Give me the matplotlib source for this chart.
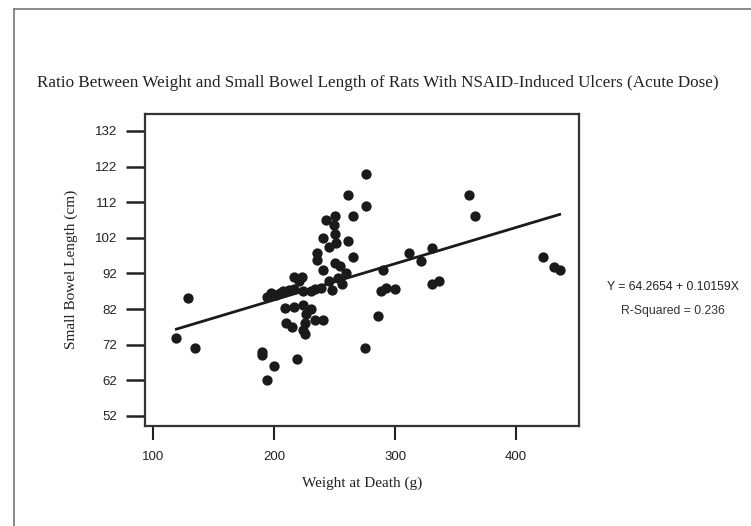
import matplotlib.pyplot as plt
from matplotlib.lines import Line2D

# weight at death (g) and small bowel length (cm)
weight = [119, 129, 134, 190, 190, 194, 200, 219, 225,
          194, 197, 201, 205, 207, 212, 216, 220, 223, 216, 224, 230, 234, 239,
          209, 216, 224, 230, 210, 215, 225, 234, 240, 226, 224,
          240, 235, 235, 240, 245, 251, 243, 250, 249, 250,
          261, 265, 261, 265, 276, 276, 250, 254, 259, 245, 253, 256, 248,
          275, 286, 288, 292, 300, 290, 311, 321, 330, 330, 336,
          361, 366, 422, 431, 436]
length = [74, 85, 71, 70, 69, 62, 66, 68, 75,
          85.5, 86.5, 86, 86.5, 87, 87.4, 91, 90, 91, 87.5, 87, 87, 87.5, 88,
          82.3, 82.7, 83, 82, 78, 77, 78, 79, 79, 80.5, 76,
          93, 97.8, 95.7, 102, 99.5, 100.5, 107, 108, 105.5, 103,
          114, 108, 101, 96.5, 120, 111, 95, 94, 92, 90, 90.7, 89, 87.4,
          71, 80, 87, 88, 87.7, 93, 97.7, 95.6, 99, 89, 90,
          114, 108, 96.5, 93.7, 93]

intercept = 64.2654
slope = 0.10159
r_squared = 0.236

xticks = [100, 200, 300, 400]
yticks = [52, 62, 72, 82, 92, 102, 112, 122, 132]

serif = ['Liberation Serif', 'DejaVu Serif']
sans = ['Liberation Sans', 'DejaVu Sans']

fig = plt.figure(figsize=(7.51, 5.26), dpi=100)
ax = fig.add_axes([0.193, 0.191, 0.578, 0.592])

ax.scatter(weight, length, s=55, color='#1a1a1a', zorder=3, linewidths=0)
x0, x1 = min(weight), max(weight)
ax.plot([x0, x1], [intercept + slope * x0, intercept + slope * x1],
        color='#1a1a1a', lw=2, zorder=2)

ax.set_xlim(93, 452)
ax.set_ylim(49.3, 136.7)
ax.set_xticks(xticks)
ax.set_yticks(yticks)
ax.tick_params(axis='y', length=14, width=1.8, pad=6, labelsize=9.5, color='#222222')
ax.tick_params(axis='x', length=10, width=1.5, pad=8, labelsize=9.5, color='#222222')
for lab in ax.get_xticklabels() + ax.get_yticklabels():
    lab.set_family(sans)
    lab.set_color('#222222')
for s in ax.spines.values():
    s.set_linewidth(1.6)
    s.set_color('#333333')

ax.set_xlabel('Weight at Death (g)', family=serif, fontsize=11, labelpad=10, color='#222222')
ax.set_ylabel('Small Bowel Length (cm)', family=serif, fontsize=11, labelpad=12, color='#222222')

fig.text(0.049, 0.842, 'Ratio Between Weight and Small Bowel Length of Rats With NSAID-Induced Ulcers (Acute Dose)',
         family=serif, fontsize=12.3, color='#222222', va='center', ha='left')

fig.text(0.896, 0.454, 'Y = %.4f + %.5fX' % (intercept, slope),
         family=sans, fontsize=8.8, ha='center', va='center', color='#222222')
fig.text(0.896, 0.409, 'R-Squared = %.3f' % r_squared,
         family=sans, fontsize=8.8, ha='center', va='center', color='#333333')

# scanned page frame (left and top edges)
fig.add_artist(Line2D([0.019, 0.019], [0, 0.983], transform=fig.transFigure, color='#777777', lw=1.2))
fig.add_artist(Line2D([0.019, 1.0], [0.983, 0.983], transform=fig.transFigure, color='#777777', lw=1.2))

fig.savefig('out.png', dpi=100)
